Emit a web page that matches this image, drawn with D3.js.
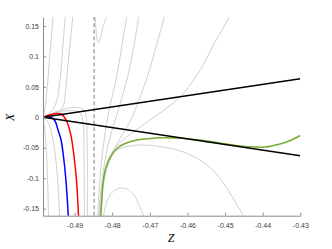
<!DOCTYPE html>
<html>
<head>
<meta charset="utf-8">
<script src="https://cdn.jsdelivr.net/npm/d3@7"></script>
<style>
  body { margin: 0; background: #fff; }
  svg { display: block; }
</style>
</head>
<body>
<div id="chart"></div>
<script>
// axis ticks
const zTicks = [-0.49, -0.48, -0.47, -0.46, -0.45, -0.44, -0.43];
const zTickLabels = ["-0.49", "-0.48", "-0.47", "-0.46", "-0.45", "-0.44", "-0.43"];
const xTicks = [-0.15, -0.1, -0.05, 0, 0.05, 0.1, 0.15];
const xTickLabels = ["-0.15", "-0.1", "-0.05", "0", "0.05", "0.1", "0.15"];

// grey trajectories, [Z, X]
const greyCurves = [
    // leaving the equilibrium upwards
    [[-0.4984, 0], [-0.4982, 0.0054], [-0.4979, 0.0136], [-0.4976, 0.0284], [-0.4972, 0.053], [-0.4967, 0.0941], [-0.4960, 0.1433], [-0.4956, 0.1762]],
    [[-0.4984, 0], [-0.4974, 0.0038], [-0.4963, 0.0087], [-0.4954, 0.0169], [-0.4947, 0.0284], [-0.4943, 0.0415], [-0.4936, 0.0777], [-0.4930, 0.1269], [-0.4923, 0.1762]],
    [[-0.4984, 0], [-0.4966, 0.0038], [-0.4947, 0.0079], [-0.4934, 0.0136], [-0.4927, 0.0251], [-0.4925, 0.0366], [-0.4919, 0.0777], [-0.4911, 0.1269], [-0.4903, 0.1762]],
    // small hump then down
    [[-0.4984, 0], [-0.4952, 0.0071], [-0.4926, 0.0103], [-0.4905, 0.011], [-0.4889, 0.0087], [-0.4881, 0.0021], [-0.4877, -0.0126], [-0.4875, -0.0537], [-0.4874, -0.17]],
    [[-0.4984, 0], [-0.4952, 0.0087], [-0.4921, 0.0144], [-0.4891, 0.0161], [-0.4875, 0.012], [-0.4869, 0.0005], [-0.4867, -0.0291], [-0.4866, -0.17]],
    // leaving downwards
    [[-0.4984, 0], [-0.4981, -0.012], [-0.4975, -0.054], [-0.4971, -0.12], [-0.4969, -0.17]],
    [[-0.4984, 0], [-0.4971, -0.008], [-0.4960, -0.029], [-0.4947, -0.087], [-0.4939, -0.17]],
    // turning curve next to the dashed line
    [[-0.4845, 0.175], [-0.4845, 0.165], [-0.4843, 0.143], [-0.4840, 0.127], [-0.4837, 0.1228], [-0.4831, 0.130], [-0.4825, 0.1466], [-0.4815, 0.1647], [-0.4810, 0.175]],
    // fan right of the dashed line
    [[-0.4757, 0.181], [-0.4774, 0.1187], [-0.4790, 0.0612], [-0.4811, 0.004], [-0.4825, -0.0537], [-0.4834, -0.1112], [-0.4839, -0.17]],
    [[-0.4726, 0.181], [-0.4742, 0.1187], [-0.4761, 0.0612], [-0.4788, 0.004], [-0.4811, -0.0455], [-0.4827, -0.1034], [-0.4837, -0.17]],
    [[-0.4655, 0.1795], [-0.4682, 0.1187], [-0.4705, 0.0695], [-0.4729, 0.0284], [-0.4748, -0.0011], [-0.4774, -0.0291], [-0.4798, -0.057], [-0.4817, -0.0898], [-0.4829, -0.1276], [-0.4835, -0.17]],
    [[-0.4481, 0.1762], [-0.4489, 0.1647], [-0.4508, 0.1433], [-0.4530, 0.1204], [-0.4554, 0.0908], [-0.4580, 0.0646], [-0.4612, 0.0383], [-0.4657, 0.0144], [-0.4700, -0.0044], [-0.4742, -0.0233], [-0.4780, -0.0422], [-0.4806, -0.0635], [-0.4822, -0.0947], [-0.4830, -0.1276], [-0.4833, -0.17]],
    // below the green trajectory
    [[-0.4829, -0.17], [-0.4829, -0.162], [-0.4825, -0.1194], [-0.4817, -0.0898], [-0.4806, -0.0701], [-0.4790, -0.0553], [-0.4766, -0.0488], [-0.4718, -0.0455], [-0.4657, -0.0496], [-0.4607, -0.0578], [-0.4567, -0.0701], [-0.4527, -0.0898], [-0.4492, -0.1194], [-0.4471, -0.1407], [-0.4451, -0.162], [-0.4444, -0.17]],
    [[-0.4824, -0.17], [-0.4823, -0.162], [-0.4817, -0.144], [-0.4806, -0.1276], [-0.4790, -0.1186], [-0.4774, -0.1161], [-0.4758, -0.1186], [-0.4742, -0.1276], [-0.4729, -0.144], [-0.4717, -0.162], [-0.4715, -0.17]]
];

const blueCurve = [[-0.4984, -0.0008], [-0.4971, 0.0005], [-0.4960, -0.0011], [-0.4952, -0.0061], [-0.4944, -0.0209], [-0.4936, -0.0373], [-0.4930, -0.0619], [-0.4923, -0.1034], [-0.4916, -0.17]];
const redCurve = [[-0.4984, 0], [-0.4966, 0.0038], [-0.4944, 0.0062], [-0.4934, 0.0046], [-0.4925, -0.002], [-0.4917, -0.0126], [-0.4909, -0.0323], [-0.4902, -0.0619], [-0.4895, -0.1034], [-0.4889, -0.17]];
const greenCurve = [[-0.4831, -0.17], [-0.4827, -0.128], [-0.4824, -0.106], [-0.4817, -0.083], [-0.4802, -0.062], [-0.4785, -0.050], [-0.4766, -0.043], [-0.4740, -0.038], [-0.4713, -0.0356], [-0.4673, -0.0337], [-0.4633, -0.034], [-0.4593, -0.0356], [-0.4567, -0.0373], [-0.4514, -0.0422], [-0.4460, -0.0471], [-0.4421, -0.0488], [-0.4394, -0.0488], [-0.4354, -0.0438], [-0.4327, -0.0381], [-0.4300, -0.0299]];

// straight black lines from the equilibrium
const blackUpper = [[-0.4984, 0], [-0.43, 0.0634]];
const blackLower = [[-0.4984, 0], [-0.43, -0.063]];

// vertical dashed line
const zDashed = -0.4848;

const width = 332;
const height = 249;
const marginLeft = 43;
const marginRight = 31.7;
const marginTop = 17;
const marginBottom = 33.3;

const x = d3.scaleLinear()
    .domain([-0.4984, -0.43])
    .range([marginLeft, width - marginRight]);

const y = d3.scaleLinear()
    .domain([-0.1616, 0.1647])
    .range([height - marginBottom, marginTop]);

const svg = d3.select("#chart")
    .append("svg")
    .attr("width", width)
    .attr("height", height);

svg.append("clipPath")
    .attr("id", "plotClip")
    .append("rect")
    .attr("x", marginLeft)
    .attr("y", marginTop)
    .attr("width", width - marginRight - marginLeft)
    .attr("height", height - marginBottom - marginTop);

const line = d3.line()
    .x((d) => x(d[0]))
    .y((d) => y(d[1]))
    .curve(d3.curveCatmullRom.alpha(0.5));

const plot = svg.append("g").attr("clip-path", "url(#plotClip)");

// grey trajectories
plot.append("g")
    .selectAll("path")
    .data(greyCurves)
    .enter()
    .append("path")
    .attr("d", line)
    .attr("fill", "none")
    .attr("stroke", "#cfcfcf")
    .attr("stroke-width", 1);

// dashed line
plot.append("line")
    .attr("x1", x(zDashed))
    .attr("x2", x(zDashed))
    .attr("y1", y.range()[0])
    .attr("y2", y.range()[1])
    .attr("stroke", "#a6a6a6")
    .attr("stroke-width", 1.5)
    .attr("stroke-dasharray", "4,2.5");

const colored = [
    { pts: blueCurve, color: "#0000ff" },
    { pts: redCurve, color: "#ff0000" },
    { pts: greenCurve, color: "#77ac30" }
];

plot.append("g")
    .selectAll("path")
    .data(colored)
    .enter()
    .append("path")
    .attr("d", (d) => line(d.pts))
    .attr("fill", "none")
    .attr("stroke", (d) => d.color)
    .attr("stroke-width", 1.5);

plot.append("g")
    .selectAll("path")
    .data([blackUpper, blackLower])
    .enter()
    .append("path")
    .attr("d", d3.line().x((d) => x(d[0])).y((d) => y(d[1])))
    .attr("fill", "none")
    .attr("stroke", "#000")
    .attr("stroke-width", 1.5);

// axes (MATLAB style, ticks inside, box off)
const xAxis = svg.append("g")
    .attr("transform", `translate(0,${height - marginBottom})`)
    .call(d3.axisBottom(x)
        .tickValues(zTicks)
        .tickFormat((d, i) => zTickLabels[i])
        .tickSizeInner(-3)
        .tickSizeOuter(0)
        .tickPadding(7));

const yAxis = svg.append("g")
    .attr("transform", `translate(${marginLeft},0)`)
    .call(d3.axisLeft(y)
        .tickValues(xTicks)
        .tickFormat((d, i) => xTickLabels[i])
        .tickSizeInner(-3)
        .tickSizeOuter(0)
        .tickPadding(4));

[xAxis, yAxis].forEach((g) => {
    g.select(".domain").attr("stroke", "#8a8a8a").attr("stroke-width", 1);
    g.selectAll(".tick line").attr("stroke", "#8a8a8a");
    g.selectAll(".tick text")
        .attr("fill", "#404040")
        .style("font-family", "'Liberation Sans', Arial, Helvetica, sans-serif")
        .style("font-size", "7px");
});

// axis labels
svg.append("text")
    .attr("x", 171)
    .attr("y", 242)
    .attr("text-anchor", "middle")
    .style("font-family", "'Liberation Serif', 'DejaVu Serif', serif")
    .style("font-style", "italic")
    .style("font-size", "12px")
    .attr("fill", "#000")
    .text("Z");

svg.append("text")
    .attr("transform", `translate(14,${y(0)}) rotate(-90)`)
    .attr("text-anchor", "middle")
    .style("font-family", "'Liberation Serif', 'DejaVu Serif', serif")
    .style("font-style", "italic")
    .style("font-size", "12px")
    .attr("fill", "#000")
    .text("X");
</script>
</body>
</html>
